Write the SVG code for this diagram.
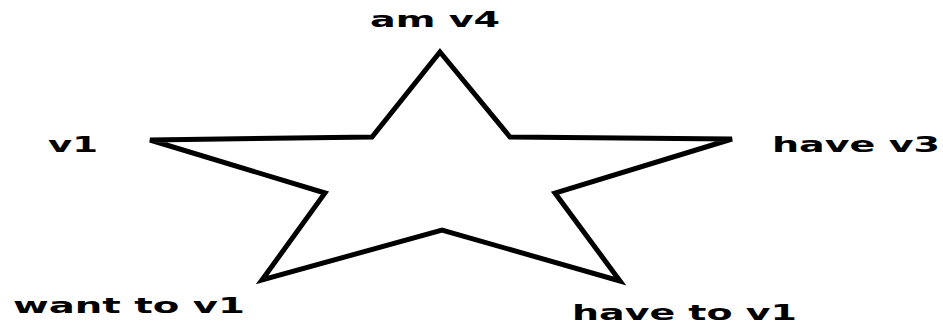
<svg xmlns="http://www.w3.org/2000/svg" width="943" height="325" viewBox="0 0 943 325">
<style>
.lbl{font-family:"DejaVu Sans","Liberation Sans",sans-serif;font-weight:bold;font-size:22px;fill:#000}
.star{fill:#fff;stroke:#000;stroke-width:5;stroke-linejoin:miter}
</style>
<rect width="943" height="325" fill="#fff"/>
<g id="star">
<polygon class="star" points="440,52 510,137 732,139 555,193 620,281 442,230 262,280 325,193 150,140 372,137"/>
</g>
<g id="connectors"></g>
<g id="label-am-v4"><text class="lbl" x="370" y="27" textLength="130" lengthAdjust="spacingAndGlyphs">am v4</text></g>
<g id="label-v1"><text class="lbl" x="48" y="152" textLength="50" lengthAdjust="spacingAndGlyphs">v1</text></g>
<g id="label-have-v3"><text class="lbl" x="772" y="152" textLength="168" lengthAdjust="spacingAndGlyphs">have v3</text></g>
<g id="label-want-to-v1"><text class="lbl" x="13" y="313" textLength="232" lengthAdjust="spacingAndGlyphs">want to v1</text></g>
<g id="label-have-to-v1"><text class="lbl" x="572" y="320" textLength="225" lengthAdjust="spacingAndGlyphs">have to v1</text></g>
</svg>
